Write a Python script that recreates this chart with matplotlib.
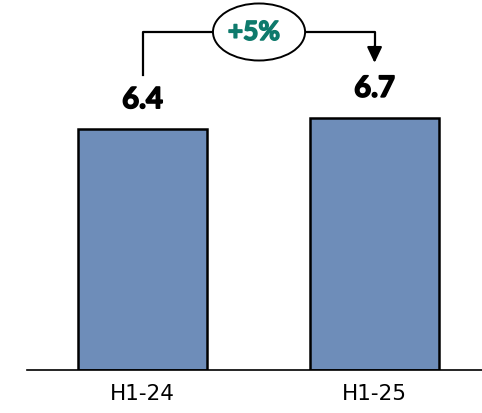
import matplotlib.pyplot as plt
import matplotlib.patheffects as pe
from matplotlib.patches import Ellipse

# data
periods = ['H1-24', 'H1-25']
values = [6.4, 6.7]
change_label = '+5%'

bar_color = '#6e8db9'
teal = '#0e7a6c'

fig = plt.figure(figsize=(4.82, 4.13), dpi=100)
ax = fig.add_axes([27 / 482, 43 / 413, 455 / 482, 370 / 413])

x = list(range(len(periods)))
ax.bar(x, values, width=0.556, color=bar_color, edgecolor='black', linewidth=1.8, zorder=2)

# value labels (heavy look via a thin stroke)
for xi, v in zip(x, values):
    ax.text(xi, v + 0.77, f'{v:.1f}', ha='center', va='center',
            fontsize=21, fontweight='bold', family='Lato', color='black',
            path_effects=[pe.withStroke(linewidth=1.2, foreground='black')])

ax.set_xlim(-0.498, 1.463)
ax.set_ylim(0, 9.83)

# connector with growth bubble
y_top = 8.98
ax.plot([x[0], x[0], 0.30], [7.84, y_top, y_top], color='black', lw=1.6, clip_on=False)
ax.plot([0.70, x[1], x[1]], [y_top, y_top, 8.5], color='black', lw=1.6, clip_on=False)
ax.annotate('', xy=(x[1], 8.16), xytext=(x[1], 8.6),
            arrowprops=dict(arrowstyle='-|>,head_length=0.95,head_width=0.45',
                            color='black', lw=1.6, shrinkA=0, shrinkB=0),
            annotation_clip=False)
ax.add_patch(Ellipse((0.502, y_top), 0.397, 1.515, facecolor='white',
                     edgecolor='black', lw=1.4, clip_on=False, zorder=3))
ax.text(0.48, y_top, change_label, ha='center', va='center', fontsize=19,
        fontweight='bold', family='Lato', color=teal, zorder=4,
        path_effects=[pe.withStroke(linewidth=1.1, foreground=teal)])

ax.set_xticks(x)
ax.set_xticklabels(periods, fontsize=15.5)
ax.tick_params(axis='x', length=0, pad=10)
ax.set_yticks([])
for s in ['top', 'right', 'left']:
    ax.spines[s].set_visible(False)
ax.spines['bottom'].set_linewidth(1.2)

fig.savefig('out.png', dpi=100)
